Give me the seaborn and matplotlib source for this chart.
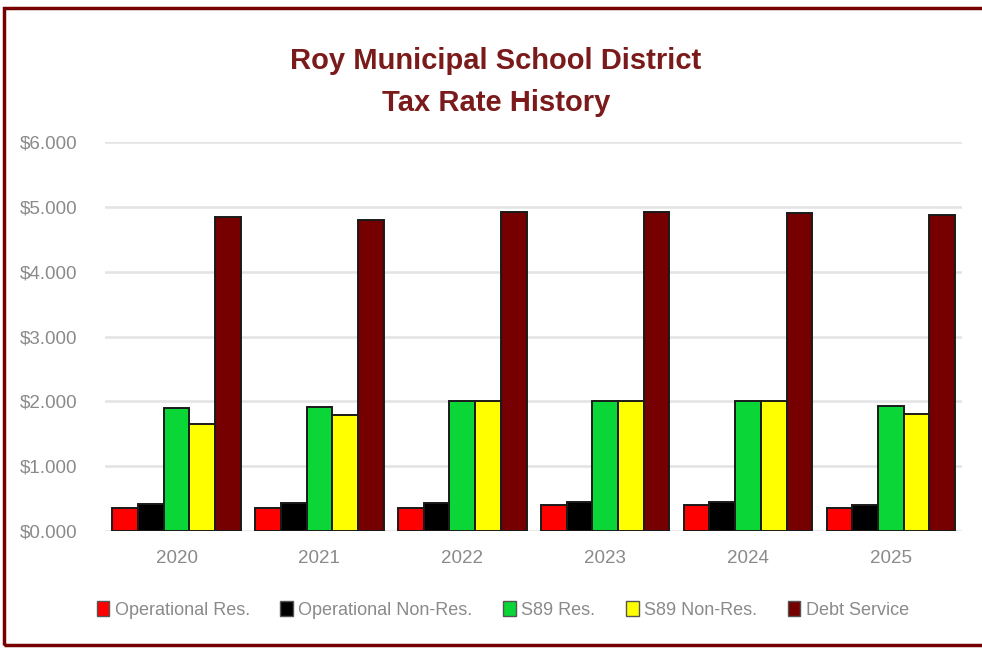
import pandas as pd
import matplotlib
matplotlib.use('Agg')
import matplotlib.pyplot as plt
import seaborn as sns
from matplotlib.patches import Rectangle, Patch
from matplotlib.ticker import FuncFormatter

# Tax rate history
years = ['2020', '2021', '2022', '2023', '2024', '2025']
operational_res = [0.355, 0.36, 0.36, 0.40, 0.40, 0.36]
operational_non_res = [0.42, 0.43, 0.43, 0.44, 0.44, 0.40]
s89_res = [1.90, 1.91, 2.00, 2.00, 2.00, 1.92]
s89_non_res = [1.65, 1.79, 2.00, 2.00, 2.00, 1.81]
debt_service = [4.85, 4.80, 4.92, 4.92, 4.90, 4.87]

series_names = ['Operational Res.', 'Operational Non-Res.', 'S89 Res.',
                'S89 Non-Res.', 'Debt Service']
series_colors = ['#FF0000', '#000000', '#0AD637', '#FFFF00', '#760000']

rows = []
for name, vals in zip(series_names, [operational_res, operational_non_res,
                                     s89_res, s89_non_res, debt_service]):
    for yr, v in zip(years, vals):
        rows.append({'Year': yr, 'Series': name, 'Rate': v})
df = pd.DataFrame(rows)

sns.set_theme(style='white')
plt.rcParams['font.family'] = ['Liberation Sans', 'DejaVu Sans']

fig = plt.figure(figsize=(9.82, 6.49), dpi=100)
ax = fig.add_axes([0.107, 0.182, 0.873, 0.599])

sns.barplot(data=df, x='Year', y='Rate', hue='Series', hue_order=series_names,
            palette=series_colors, saturation=1, width=0.9, gap=0,
            edgecolor='#1a1a1a', linewidth=1.4, ax=ax, legend=False, zorder=3)

ax.set_ylim(0, 6)
ax.set_yticks([0, 1, 2, 3, 4, 5, 6])
ax.yaxis.set_major_formatter(FuncFormatter(lambda v, p: f'${v:.3f}'))
ax.grid(axis='y', color='#E3E3E3', linewidth=1.8, zorder=0)
ax.set_axisbelow(True)
for s in ax.spines.values():
    s.set_visible(False)
ax.set_xlabel('')
ax.set_ylabel('')
ax.tick_params(axis='both', length=0, labelsize=13.5, labelcolor='#8A8A8A')
ax.tick_params(axis='y', pad=20)
ax.tick_params(axis='x', pad=14)

fig.text(0.505, 0.906, 'Roy Municipal School District', ha='center', va='center',
         fontsize=21, fontweight='bold', color='#7A1A1A')
fig.text(0.505, 0.842, 'Tax Rate History', ha='center', va='center',
         fontsize=21, fontweight='bold', color='#7A1A1A')

handles = [Patch(facecolor=c, edgecolor='#555555', linewidth=1) for c in series_colors]
fig.legend(handles, series_names, loc='center', bbox_to_anchor=(0.512, 0.06),
           ncol=5, frameon=False, fontsize=13, labelcolor='#8A8A8A',
           handlelength=0.7, handleheight=0.9, handletextpad=0.3, columnspacing=1.7)

# maroon frame around the chart
fig.patches.append(Rectangle((0.004, 0.006), 1.2, 0.982, transform=fig.transFigure,
                             fill=False, edgecolor='#760000', linewidth=2.5))

fig.savefig('out.png', dpi=100)
